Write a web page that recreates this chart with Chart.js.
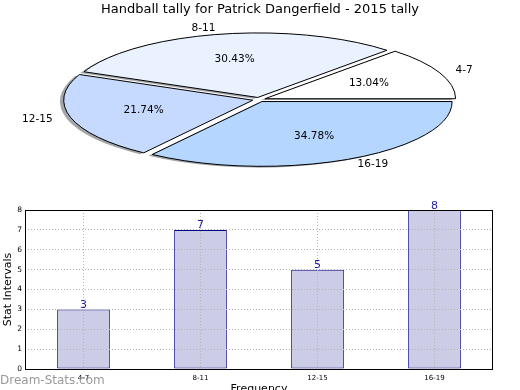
<!DOCTYPE html>
<html>
<head>
<meta charset="utf-8">
<script src="https://cdn.jsdelivr.net/npm/chart.js@4.4.1/dist/chart.umd.min.js"></script>
<style>
    body { margin: 0; background: #fff; width: 520px; height: 390px; overflow: hidden; position: relative; }
    #pie { position: absolute; left: 0; top: 0; }
    #bars { position: absolute; left: 0; top: 195px; }
</style>
</head>
<body>
<canvas id="pie" width="520" height="195"></canvas>
<canvas id="bars" width="520" height="195"></canvas>

<script>
//------------------ DONNEES ------------------

const categories = ['4-7', '8-11', '12-15', '16-19'];
const tallies = [3, 7, 5, 8];
const sliceColors = ['#ffffff', '#eaf2ff', '#c6d9ff', '#b4d6ff'];
const yTicks = [0, 1, 2, 3, 4, 5, 6, 7, 8];

const titre = 'Handball tally for Patrick Dangerfield - 2015 tally';

Chart.defaults.font.family = '"DejaVu Sans", sans-serif';
Chart.defaults.color = '#000';

//------------------ CAMEMBERT "3D" (ellipse) ------------------

// position et taille de l'ellipse sur la page
const PIE_CX = 259, PIE_CY = 99.6, PIE_RX = 189, PIE_RY = 64.4;
const PIE_R = 100;        // rayon chart.js avant l'écrasement
const EXPLODE = 0.034;    // décalage des parts (fraction du rayon)

function pieTransform(chart, ctx) {
    const a = chart.getDatasetMeta(0).data[0];
    const k = a.outerRadius;
    ctx.translate(PIE_CX, PIE_CY);
    ctx.scale(PIE_RX / k, -PIE_RY / k); // y inversé -> sens anti-horaire comme matplotlib
    ctx.translate(-a.x, -a.y);
}

// point (coords chart.js) -> coords page
function toPage(chart, x, y) {
    const a = chart.getDatasetMeta(0).data[0];
    const k = a.outerRadius;
    return {
        x: PIE_CX + (x - a.x) * PIE_RX / k,
        y: PIE_CY - (y - a.y) * PIE_RY / k
    };
}

// même chemin que l'arc chart.js (offset compris), construit sous la transfo
function arcPath(chart, ctx, arc, dx, dy) {
    const off = (arc.options.offset || 0) / 4;
    const mid = (arc.startAngle + arc.endAngle) / 2;
    const circ = arc.endAngle - arc.startAngle;
    const fix = 1 - Math.sin(Math.min(Math.PI, circ));
    const r = arc.outerRadius + off * fix;
    const x = arc.x + Math.cos(mid) * off;
    const y = arc.y + Math.sin(mid) * off;
    ctx.save();
    ctx.translate(dx, dy);
    pieTransform(chart, ctx);
    ctx.beginPath();
    ctx.moveTo(x, y);
    ctx.arc(x, y, r, arc.startAngle, arc.endAngle);
    ctx.closePath();
    ctx.restore();
}

const ellipsePlugin = {
    id: 'ellipse',
    beforeDatasetsDraw(chart) {
        const ctx = chart.ctx;
        const arcs = chart.getDatasetMeta(0).data;
        // ombre grise décalée (gauche / bas)
        arcs.forEach(arc => {
            arcPath(chart, ctx, arc, -3.8, 1.3);
            ctx.fillStyle = 'rgba(70,75,85,0.5)';
            ctx.fill();
        });
        ctx.save();
        pieTransform(chart, ctx);
    },
    afterDatasetsDraw(chart) {
        const ctx = chart.ctx;
        ctx.restore();
        const arcs = chart.getDatasetMeta(0).data;
        const total = tallies.reduce((s, v) => s + v, 0);

        arcs.forEach((arc, i) => {
            // contour noir
            arcPath(chart, ctx, arc, 0, 0);
            ctx.lineWidth = 1;
            ctx.strokeStyle = '#000';
            ctx.stroke();

            const mid = (arc.startAngle + arc.endAngle) / 2;
            const off = (arc.options.offset || 0) / 4;
            const r = arc.outerRadius;

            ctx.fillStyle = '#000';
            ctx.font = '10.5px "DejaVu Sans"';
            ctx.textBaseline = 'middle';

            // pourcentage à 0.6 du rayon
            const p = toPage(chart, arc.x + Math.cos(mid) * (0.6 * r + off), arc.y + Math.sin(mid) * (0.6 * r + off));
            ctx.textAlign = 'center';
            ctx.fillText((tallies[i] / total * 100).toFixed(2) + '%', p.x, p.y);

            // étiquette à 1.1 du rayon
            const l = toPage(chart, arc.x + Math.cos(mid) * (1.1 * r + off), arc.y + Math.sin(mid) * (1.1 * r + off));
            ctx.textAlign = Math.cos(mid) > 0 ? 'left' : 'right';
            ctx.fillText(categories[i], l.x, l.y);
        });
    }
};

new Chart(document.getElementById('pie').getContext('2d'), {
    type: 'pie',
    plugins: [ellipsePlugin],
    data: {
        labels: categories,
        datasets: [{
            data: tallies,
            backgroundColor: sliceColors,
            borderWidth: 0,
            offset: 4 * EXPLODE * PIE_R,
            clip: false
        }]
    },
    options: {
        responsive: false,
        animation: false,
        events: [],
        rotation: 90, // départ à 3h
        radius: PIE_R,
        plugins: {
            legend: { display: false },
            tooltip: { enabled: false },
            title: {
                display: true,
                text: titre,
                color: '#000',
                font: { size: 13, weight: 'normal' },
                padding: { top: 2, bottom: 4 }
            }
        }
    }
});

//------------------ HISTOGRAMME ------------------

const barExtras = {
    id: 'barExtras',
    afterDraw(chart) {
        const ctx = chart.ctx;
        const a = chart.chartArea;

        // cadre noir complet
        ctx.save();
        ctx.strokeStyle = '#000';
        ctx.lineWidth = 1;
        ctx.strokeRect(Math.round(a.left) + 0.5, Math.round(a.top) + 0.5, Math.round(a.right - a.left) - 1, Math.round(a.bottom - a.top));

        // valeurs au dessus des barres
        ctx.fillStyle = '#1c1ca0';
        ctx.font = '11px "DejaVu Sans"';
        ctx.textAlign = 'center';
        ctx.textBaseline = 'alphabetic';
        chart.getDatasetMeta(0).data.forEach((bar, i) => {
            ctx.fillText(String(tallies[i]), bar.x, bar.y - 1.5);
        });

        // filigrane
        ctx.fillStyle = '#9a9a9a';
        ctx.font = '12px "DejaVu Sans"';
        ctx.textAlign = 'left';
        ctx.fillText('Dream-Stats.com', 0, 189);
        ctx.restore();
    }
};

new Chart(document.getElementById('bars').getContext('2d'), {
    type: 'bar',
    plugins: [barExtras],
    data: {
        labels: categories,
        datasets: [{
            data: tallies,
            backgroundColor: 'rgb(204,204,230)',
            borderColor: '#000080',
            borderWidth: 1,
            borderSkipped: false,
            barPercentage: 0.45,
            categoryPercentage: 1.0
        }]
    },
    options: {
        responsive: false,
        animation: false,
        events: [],
        layout: { padding: { top: 15, right: 27, left: 0, bottom: 0 } },
        plugins: {
            legend: { display: false },
            tooltip: { enabled: false }
        },
        scales: {
            x: {
                offset: true,
                grid: { offset: false, color: '#b4b4b4', drawTicks: false, z: 1 },
                border: { display: false, dash: [1, 2] },
                ticks: { font: { size: 7 }, color: '#000', padding: 5, maxRotation: 0 },
                title: { display: true, text: 'Frequency', color: '#000', font: { size: 11 }, padding: { top: 0, bottom: -6 } },
                afterFit: s => { s.height = 21; }
            },
            y: {
                min: yTicks[0],
                max: yTicks[yTicks.length - 1],
                afterBuildTicks: s => { s.ticks = yTicks.map(v => ({ value: v })); },
                grid: { color: '#b4b4b4', drawTicks: false, z: 1 },
                border: { display: false, dash: [1, 2] },
                ticks: { font: { size: 7.5 }, color: '#000', padding: 3 },
                title: { display: true, text: 'Stat Intervals', color: '#000', font: { size: 11 }, padding: { top: 2, bottom: 0 } },
                afterFit: s => { s.width = 25; }
            }
        }
    }
});
</script>
</body>
</html>
